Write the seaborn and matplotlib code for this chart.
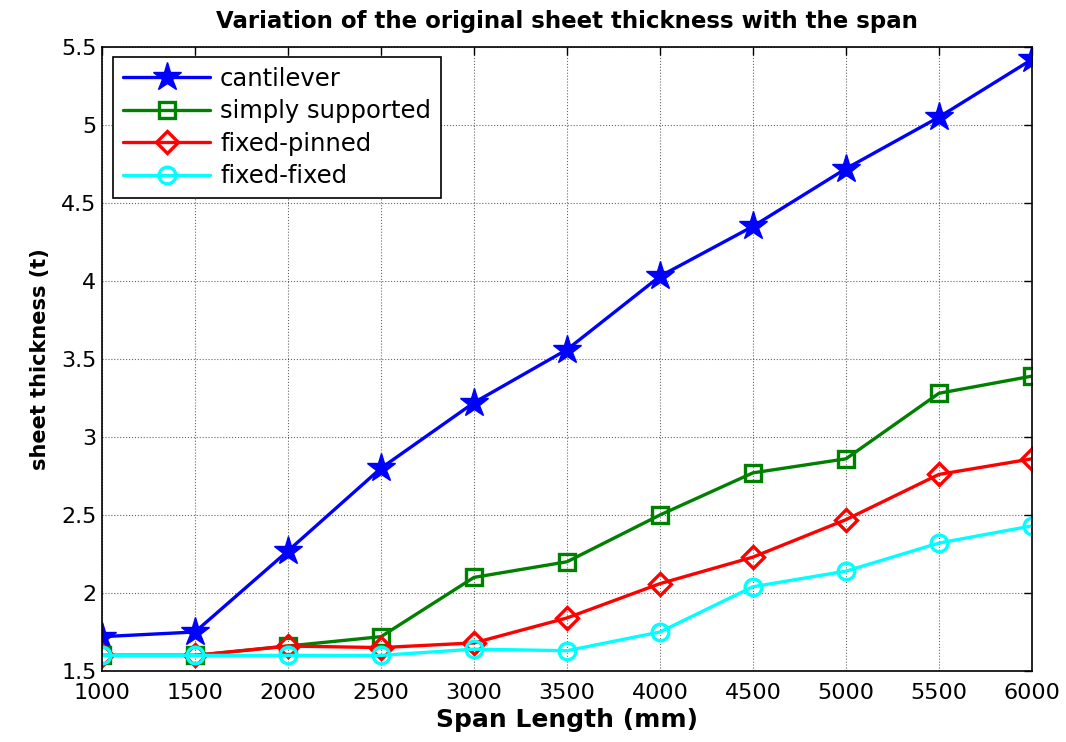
import matplotlib
matplotlib.use("Agg")
import matplotlib.pyplot as plt
import seaborn as sns
import pandas as pd

span = [1000, 1500, 2000, 2500, 3000, 3500, 4000, 4500, 5000, 5500, 6000]
cantilever = [1.72, 1.75, 2.27, 2.80, 3.22, 3.56, 4.03, 4.35, 4.72, 5.05, 5.42]
simply_supported = [1.60, 1.60, 1.66, 1.72, 2.10, 2.20, 2.50, 2.77, 2.86, 3.28, 3.39]
fixed_pinned = [1.60, 1.60, 1.66, 1.65, 1.68, 1.84, 2.06, 2.23, 2.47, 2.76, 2.86]
fixed_fixed = [1.60, 1.60, 1.60, 1.60, 1.64, 1.63, 1.75, 2.04, 2.14, 2.32, 2.43]
x_ticks = [1000, 1500, 2000, 2500, 3000, 3500, 4000, 4500, 5000, 5500, 6000]
y_ticks = [1.5, 2, 2.5, 3, 3.5, 4, 4.5, 5, 5.5]

sns.set_style("white")
plt.rcParams['font.family'] = ['DejaVu Sans']
plt.rcParams['text.color'] = 'black'
plt.rcParams['axes.labelcolor'] = 'black'

fig = plt.figure(figsize=(10.66, 7.42), dpi=100)
ax = fig.add_axes([0.0957, 0.0957, 0.968 - 0.0957, 0.9367 - 0.0957])

series = [
    ("cantilever", cantilever, "#0000ff", "*", 21, True),
    ("simply supported", simply_supported, "#008000", "s", 12, False),
    ("fixed-pinned", fixed_pinned, "#ff0000", "D", 11, False),
    ("fixed-fixed", fixed_fixed, "#00ffff", "o", 12, False),
]
for name, vals, col, mk, ms, filled in series:
    df = pd.DataFrame({"span": span, "t": vals})
    sns.lineplot(data=df, x="span", y="t", ax=ax, color=col, marker=mk,
                 markersize=ms, linewidth=2.4, label=name,
                 markerfacecolor=col if filled else "none",
                 markeredgecolor=col, markeredgewidth=2.4 if not filled else 1)

ax.set_xlim(1000, 6000)
ax.set_ylim(1.5, 5.5)
ax.set_xticks(x_ticks)
ax.set_yticks(y_ticks)
ax.set_xticklabels([str(v) for v in x_ticks])
ax.set_yticklabels([("%g" % v) for v in y_ticks])
ax.tick_params(direction="in", top=True, right=True, labelsize=16, length=6,
               width=1, colors="black")
ax.tick_params(axis="x", pad=9)
ax.tick_params(axis="y", pad=4)
ax.grid(True, color="black", linestyle=":", linewidth=0.8, alpha=0.6)
for s in ax.spines.values():
    s.set_color("black")
    s.set_linewidth(1.2)

ax.set_title("Variation of the original sheet thickness with the span",
             fontsize=16.5, fontweight="bold", pad=14, color="black")
ax.set_xlabel("Span Length (mm)", fontsize=18, fontweight="bold", labelpad=3)
ax.set_ylabel("sheet thickness (t)", fontsize=15, fontweight="bold", labelpad=8)

leg = ax.legend(loc="upper left", fontsize=17.5, frameon=True, fancybox=False,
                edgecolor="black", framealpha=1, borderpad=0.4,
                handlelength=3.6, handletextpad=0.4, labelspacing=0.35,
                borderaxespad=0, bbox_to_anchor=(0.012, 0.984))
leg.get_frame().set_linewidth(1.2)
for t in leg.get_texts():
    t.set_color("black")

fig.savefig("out.png", dpi=100)
